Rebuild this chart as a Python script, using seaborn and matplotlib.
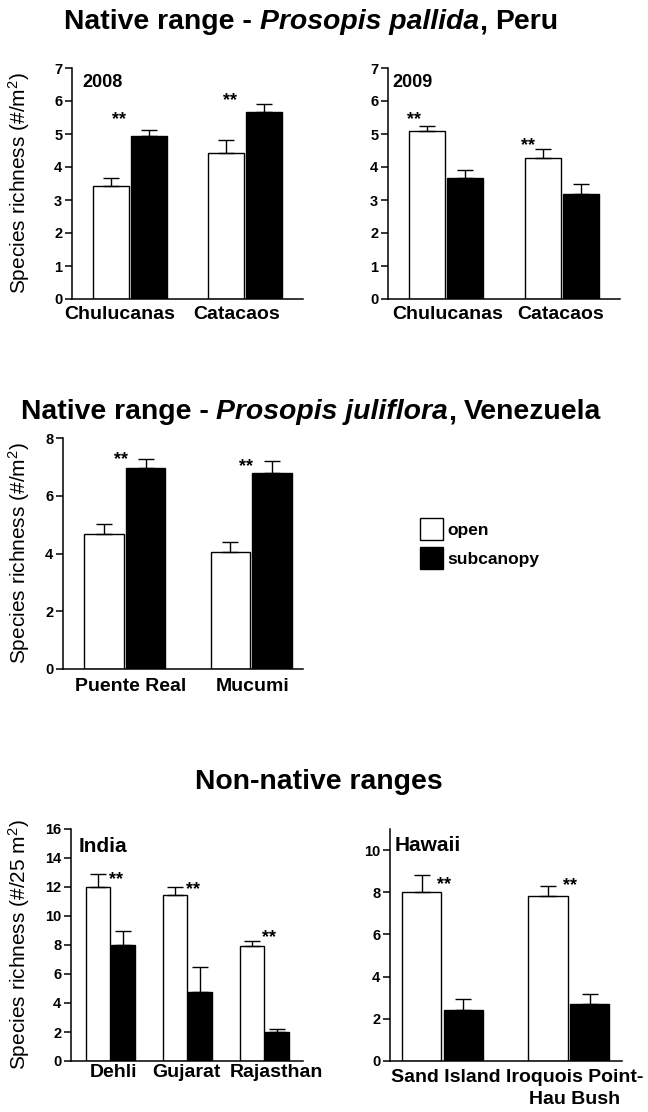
import numpy as np
import pandas as pd
import matplotlib
matplotlib.use("Agg")
import matplotlib.pyplot as plt
import matplotlib.transforms as mtransforms
import seaborn as sns
from matplotlib.patches import Patch

# ---------------- data ----------------
cover_levels = ["open", "subcanopy"]

peru_sites = ["Chulucanas", "Catacaos"]
peru2008_open = [3.43, 4.42]
peru2008_open_se = [0.24, 0.39]
peru2008_sub = [4.95, 5.66]
peru2008_sub_se = [0.17, 0.26]

peru2009_open = [5.08, 4.27]
peru2009_open_se = [0.17, 0.28]
peru2009_sub = [3.67, 3.19]
peru2009_sub_se = [0.23, 0.28]

ven_sites = ["Puente Real", "Mucumi"]
ven_open = [4.68, 4.06]
ven_open_se = [0.34, 0.35]
ven_sub = [6.95, 6.79]
ven_sub_se = [0.32, 0.41]

india_sites = ["Dehli", "Gujarat", "Rajasthan"]
india_open = [11.99, 11.42, 7.94]
india_open_se = [0.90, 0.57, 0.37]
india_sub = [8.03, 4.74, 2.03]
india_sub_se = [0.97, 1.77, 0.20]

hawaii_sites = ["Sand Island", "Iroquois Point-\nHau Bush"]
hawaii_open = [8.00, 7.81]
hawaii_open_se = [0.80, 0.48]
hawaii_sub = [2.42, 2.71]
hawaii_sub_se = [0.53, 0.49]

# ---------------- style ----------------
sns.set_theme(style="ticks")
plt.rcParams["font.family"] = ["Liberation Sans", "DejaVu Sans"]
plt.rcParams["mathtext.fontset"] = "custom"
plt.rcParams["mathtext.rm"] = "Liberation Sans"
plt.rcParams["mathtext.it"] = "Liberation Sans:italic"
plt.rcParams["mathtext.bf"] = "Liberation Sans:bold"
plt.rcParams["text.color"] = "black"
plt.rcParams["axes.labelcolor"] = "black"
plt.rcParams["xtick.color"] = "black"
plt.rcParams["ytick.color"] = "black"
plt.rcParams["axes.edgecolor"] = "black"

W, H = 648, 1112
fig = plt.figure(figsize=(W / 100, H / 100), dpi=100)


def ax_at(left, top, right, bottom):
    return fig.add_axes([left / W, 1 - bottom / H, (right - left) / W, (bottom - top) / H])


def draw_panel(ax, sites, o, o_se, s, s_se, ylim, yticks, xlim, label, label_size,
               label_pos, star_dx, star_y, xpad, xlab_shift, ylabel=None, ylabel_x=None):
    n = len(sites)
    df = pd.DataFrame({
        "site": list(sites) * 2,
        "cover": ["open"] * n + ["subcanopy"] * n,
        "richness": list(o) + list(s),
    })
    sns.barplot(data=df, x="site", y="richness", hue="cover", order=sites,
                hue_order=cover_levels,
                palette={"open": "white", "subcanopy": "black"},
                edgecolor="black", linewidth=1.0, width=0.66, gap=0.06,
                errorbar=None, legend=False, ax=ax, zorder=2)
    for cont, se in zip(ax.containers, [o_se, s_se]):
        xs = [b.get_x() + b.get_width() / 2 for b in cont]
        hs = [b.get_height() for b in cont]
        ax.errorbar(xs, hs, yerr=[np.zeros(n), se], fmt="none", ecolor="black",
                    elinewidth=1.0, capsize=5.5, capthick=1.0, zorder=3)
    for i, (dx, yy) in enumerate(zip(star_dx, star_y)):
        ax.text(i + dx, yy, "**", ha="center", va="baseline", fontsize=13,
                fontweight="bold", color="black")
    ax.set_ylim(*ylim)
    ax.set_xlim(*xlim)
    ax.set_yticks(yticks)
    ax.set_xlabel("")
    if ylabel:
        ax.set_ylabel(ylabel, fontsize=15, color="black")
        ax.yaxis.set_label_coords(ylabel_x, 0.5)
    else:
        ax.set_ylabel("")
    sns.despine(ax=ax)
    for sp in ["left", "bottom"]:
        ax.spines[sp].set_linewidth(1.1)
        ax.spines[sp].set_color("black")
    ax.tick_params(axis="y", direction="out", length=5, width=1.1, labelsize=10.5,
                   pad=2, colors="black")
    ax.tick_params(axis="x", length=0, labelsize=14, pad=xpad, colors="black")
    for t in ax.get_yticklabels():
        t.set_fontweight("bold")
    for t, sh in zip(ax.get_xticklabels(), xlab_shift):
        t.set_fontweight("bold")
        t.set_linespacing(1.45)
        t.set_transform(t.get_transform() +
                        mtransforms.ScaledTranslation(sh / 100, 0, fig.dpi_scale_trans))
    ax.text(label_pos[0], label_pos[1], label, transform=ax.transAxes,
            fontsize=label_size, fontweight="bold", ha="left", va="baseline")


ax1 = ax_at(72, 68, 303, 299)
draw_panel(ax1, peru_sites, peru2008_open, peru2008_open_se, peru2008_sub, peru2008_sub_se,
           (0, 7), range(0, 8), (-0.5, 1.5), "2008", 13, (0.043, 0.918),
           [-0.095, -0.128], [5.29, 5.88], 4.7, [-10, -9],
           ylabel=r"Species richness (#/m$^{2}$)", ylabel_x=-0.173)

ax2 = ax_at(388, 68, 620, 299)
draw_panel(ax2, peru_sites, peru2009_open, peru2009_open_se, peru2009_sub, peru2009_sub_se,
           (0, 7), range(0, 8), (-0.5, 1.5), "2009", 13, (0.02, 0.918),
           [-0.28, -0.29], [5.29, 4.50], 4.7, [2, -1])

ax3 = ax_at(63, 438, 303, 669)
draw_panel(ax3, ven_sites, ven_open, ven_open_se, ven_sub, ven_sub_se,
           (0, 8), range(0, 9, 2), (-0.49, 1.41), "", 13, (0.02, 0.9),
           [-0.03, -0.04], [7.10, 6.87], 6.8, [6, 1.5],
           ylabel=r"Species richness (#/m$^{2}$)", ylabel_x=-0.129)

ax4 = ax_at(71, 829, 303, 1061)
draw_panel(ax4, india_sites, india_open, india_open_se, india_sub, india_sub_se,
           (0, 16), range(0, 17, 2), (-0.51, 2.5), "India", 15, (0.034, 0.90),
           [0.08, 0.075, 0.06], [12.2, 11.5, 8.2], 2.5, [3.5, -0.5, 11.5],
           ylabel=r"Species richness (#/25 m$^{2}$)", ylabel_x=-0.168)

ax5 = ax_at(390, 829, 622, 1061)
draw_panel(ax5, hawaii_sites, hawaii_open, hawaii_open_se, hawaii_sub, hawaii_sub_se,
           (0, 11), range(0, 11, 2), (-0.415, 1.42), "Hawaii", 15, (0.02, 0.905),
           [0.015, 0.01], [8.15, 8.09], 5.4, [3, 6])

# ---------------- legend ----------------
handles = [Patch(facecolor="white", edgecolor="black", linewidth=1.0),
           Patch(facecolor="black", edgecolor="black", linewidth=1.0)]
fig.legend(handles=handles, labels=cover_levels, loc="upper left",
           bbox_to_anchor=(420 / W, 1 - 518 / H), frameon=False, borderpad=0,
           borderaxespad=0, handlelength=1.32, handleheight=1.57, handletextpad=0.25,
           labelspacing=0.4, prop={"weight": "bold", "size": 12.5})

# ---------------- titles ----------------
renderer = fig.canvas.get_renderer()
TS = 20.4


def text_w(s, style):
    t = fig.text(0, 0, s, fontsize=TS, fontweight="bold", fontstyle=style)
    w = t.get_window_extent(renderer=renderer).width
    t.remove()
    return w


space_w = text_w("x x", "normal") - text_w("xx", "normal")


def draw_title(cx, base_y, parts):
    widths = []
    for s, st in parts:
        widths.append(space_w if s == " " else text_w(s, st))
    x = cx - sum(widths) / 2
    for (s, st), w in zip(parts, widths):
        if s != " ":
            fig.text(x / W, 1 - base_y / H, s, fontsize=TS, fontweight="bold",
                     fontstyle=st, ha="left", va="baseline")
        x += w


draw_title(311, 29, [("Native range -", "normal"), (" ", "normal"),
                     ("Prosopis pallida", "italic"), (",", "normal"), (" ", "normal"),
                     ("Peru", "normal")])
draw_title(311, 419, [("Native range -", "normal"), (" ", "normal"),
                      ("Prosopis juliflora", "italic"), (",", "normal"), (" ", "normal"),
                      ("Venezuela", "normal")])
draw_title(319, 789, [("Non-native ranges", "normal")])

fig.savefig("out.png", dpi=100)
